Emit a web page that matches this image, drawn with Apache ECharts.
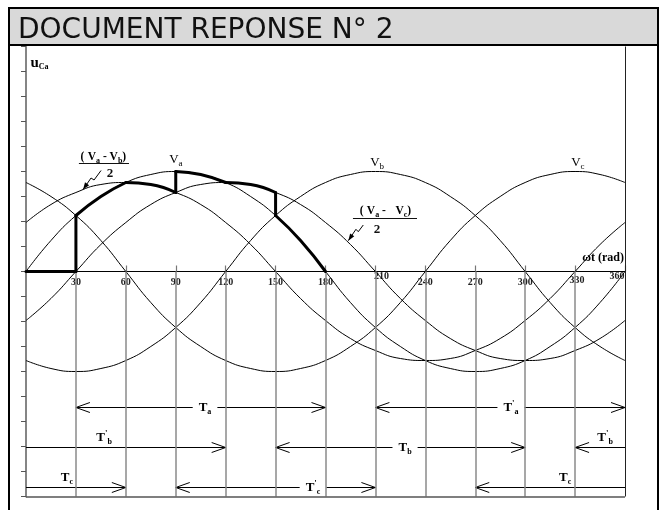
<!DOCTYPE html>
<html>
<head>
<meta charset="utf-8">
<script src="https://cdn.jsdelivr.net/npm/echarts@6/dist/echarts.min.js"></script>
<style>
  html, body { margin: 0; padding: 0; background: #fff; }
  #c { width: 667px; height: 510px; }
</style>
</head>
<body>
<div id="c"></div>
<script>
// Phase voltages and half line voltages over one period (degrees), amplitude of Va = 1
const angles = [0, 15, 30, 45, 60, 75, 90, 105, 120, 135, 150, 165, 180, 195, 210, 225, 240, 255, 270, 285, 300, 315, 330, 345, 360];
const va  = [0, .31, .56, .75, .89, .97, 1, .97, .89, .75, .56, .31, 0, -.31, -.56, -.75, -.89, -.97, -1, -.97, -.89, -.75, -.56, -.31, 0];
const vb  = [-.89, -.97, -1, -.97, -.89, -.75, -.56, -.31, 0, .31, .56, .75, .89, .97, 1, .97, .89, .75, .56, .31, 0, -.31, -.56, -.75, -.89];
const vc  = [.89, .75, .56, .31, 0, -.31, -.56, -.75, -.89, -.97, -1, -.97, -.89, -.75, -.56, -.31, 0, .31, .56, .75, .89, .97, 1, .97, .89];
const vab = [.49, .67, .79, .87, .89, .87, .79, .67, .49, .27, 0, -.27, -.49, -.67, -.79, -.87, -.89, -.87, -.79, -.67, -.49, -.27, 0, .27, .49];
const vac = [-.49, -.27, 0, .27, .49, .67, .79, .87, .89, .87, .79, .67, .49, .27, 0, -.27, -.49, -.67, -.79, -.87, -.89, -.87, -.79, -.67, -.49];

// u_Ca : which curve is applied between which angles
const uCaSegments = [
  ['zero', 0, 30], ['va', 30, 60], ['vab', 60, 90], ['va', 90, 120], ['vac', 120, 150], ['va', 150, 180]
];

// x tick labels every 30 degrees
const xTickLabels = ['', '30', '60', '90', '120', '150', '180', '210', '240', '270', '300', '330', '360'];

// vertical reference lines below the axis
const refAngles = [30, 60, 90, 120, 150, 180, 210, 240, 270, 300, 330];

// conduction intervals: [from, to, row level, arrow at start, arrow at end]
const spans = [
  [30, 180, -1.35, 1, 1],
  [210, 360, -1.35, 1, 1],
  [0, 120, -1.75, 0, 1],
  [150, 300, -1.75, 1, 1],
  [330, 360, -1.75, 1, 0],
  [0, 60, -2.15, 0, 1],
  [90, 210, -2.15, 1, 1],
  [270, 360, -2.15, 1, 0]
];
// interval names: [subscript, prime]
const spanNames = [['a', ''], ['a', "'"], ['b', "'"], ['b', ''], ['b', "'"], ['c', ''], ['c', "'"], ['c', '']];
// where each name sits: [angle, on the line or above it]
const spanNameAt = [[107.6, 'on'], [291.5, 'on'], [46.9, 'above'], [227.8, 'on'], [348, 'above'], [24.6, 'above'], [172.5, 'on'], [324, 'above']];

const SERIF = '"Liberation Serif", "DejaVu Serif", serif';
const curves = { va: va, vb: vb, vc: vc, vab: vab, vac: vac };

function curvePoints(name, a0, a1) {
  const out = [];
  angles.forEach(function (a, i) {
    if (a >= a0 && a <= a1) out.push([a, name === 'zero' ? 0 : curves[name][i]]);
  });
  return out;
}

const series = [];

// thin curves
['va', 'vb', 'vc', 'vab', 'vac'].forEach(function (k) {
  series.push({
    type: 'line', name: k, smooth: true, symbol: 'none', silent: true,
    lineStyle: { color: '#000', width: 1 },
    data: angles.map(function (a, i) { return [a, curves[k][i]]; }),
    z: 3
  });
});

// thick u_Ca trace
uCaSegments.forEach(function (seg, k) {
  const pts = curvePoints(seg[0], seg[1], seg[2]);
  series.push({
    type: 'line', smooth: seg[0] !== 'zero', symbol: 'none', silent: true,
    lineStyle: { color: '#000', width: 3, cap: 'round', join: 'round' },
    data: pts, z: 5
  });
  if (k > 0) {
    const prev = uCaSegments[k - 1];
    const prevPts = curvePoints(prev[0], prev[1], prev[2]);
    const endV = prevPts[prevPts.length - 1][1];
    if (endV !== pts[0][1]) {
      series.push({
        type: 'line', symbol: 'none', silent: true,
        lineStyle: { color: '#000', width: 3, cap: 'round' },
        data: [[seg[1], endV], [seg[1], pts[0][1]]], z: 5
      });
    }
  }
});

// reference lines
const markData = refAngles.map(function (a) {
  return [{ coord: [a, 0], lineStyle: { color: '#8a8a8a', width: 1.5, type: 'solid' } }, { coord: [a, -2.25] }];
});
markData.push([{ coord: [360, 2.25], lineStyle: { color: '#222', width: 1, type: 'solid' } }, { coord: [360, -2.25] }]);
markData.push([{ coord: [0, -2.25], lineStyle: { color: '#555', width: 1.5, type: 'solid' } }, { coord: [360, -2.25] }]);
series.push({
  type: 'line', data: [], silent: true,
  markLine: { symbol: ['none', 'none'], silent: true, label: { show: false }, animation: false, lineStyle: { type: 'solid' }, data: markData },
  z: 1
});

// interval arrows
const richT = {
  t: { fontFamily: SERIF, fontSize: 13, fontWeight: 'bold', color: '#000', lineHeight: 16 },
  p: { fontFamily: SERIF, fontSize: 9, fontWeight: 'bold', color: '#000', lineHeight: 9, verticalAlign: 'top' },
  s: { fontFamily: SERIF, fontSize: 8, fontWeight: 'bold', color: '#000', lineHeight: 9, verticalAlign: 'bottom' }
};
series.push({
  type: 'custom', silent: true, clip: false, z: 4,
  data: spans.map(function (s, i) { return [s[0], s[2], i]; }),
  encode: { x: 0, y: 1 },
  renderItem: function (params, api) {
    const s = spans[params.dataIndex];
    const p0 = api.coord([s[0], s[2]]);
    const p1 = api.coord([s[1], s[2]]);
    const y = Math.round(p0[1]) + 0.5;
    const ch = [];
    ch.push({ type: 'line', shape: { x1: p0[0], y1: y, x2: p1[0], y2: y }, style: { stroke: '#000', lineWidth: 1 } });
    if (s[3]) ch.push({ type: 'polyline', shape: { points: [[p0[0] + 14, y - 5], [p0[0], y], [p0[0] + 14, y + 5]] }, style: { stroke: '#000', lineWidth: 1, fill: null } });
    if (s[4]) ch.push({ type: 'polyline', shape: { points: [[p1[0] - 14, y - 5], [p1[0], y], [p1[0] - 14, y + 5]] }, style: { stroke: '#000', lineWidth: 1, fill: null } });
    const nm = spanNames[params.dataIndex];
    const at = spanNameAt[params.dataIndex];
    const lp = api.coord([at[0], s[2]]);
    const on = at[1] === 'on';
    const txt = '{t|T}' + (nm[1] ? '{p|' + nm[1] + '}' : '') + '{s|' + nm[0] + '}';
    ch.push({
      type: 'text', x: lp[0], y: on ? y : y - 10,
      style: {
        text: txt, rich: richT, align: 'center', verticalAlign: 'middle',
        backgroundColor: on ? '#fff' : null, padding: on ? [0, 6] : 0
      }
    });
    return { type: 'group', children: ch };
  }
});

// curve names, fractions and pointers
const curveNameSub = ['a', 'b', 'c'];
const curveNameAt = [[90.1, 1.115], [211, 1.085], [331.7, 1.085]];
const fractionText = ['( V{s|a} - V{s|b})', '( V{s|a} -   V{s|c})'];
const fractionAt = [[46.5, 1.145], [216, 0.605]];
const fractionBar = [[31.8, 61.9, 1.085], [196.5, 235, 0.54]];
const fractionTwoAt = [[50.5, 0.975], [211, 0.42]];
const pointers = [
  [[45.1, 1.01], [40.9, 0.915], [39.1, 0.935], [34.3, 0.82]],
  [[202.7, 0.465], [199.7, 0.398], [198.3, 0.422], [193.7, 0.308]]
];

const richV = {
  v: { fontFamily: SERIF, fontSize: 13, color: '#111', lineHeight: 16 },
  s: { fontFamily: SERIF, fontSize: 9, color: '#111', lineHeight: 9, verticalAlign: 'bottom' }
};
const richF = {
  v: { fontFamily: SERIF, fontSize: 11.5, fontWeight: 'bold', color: '#111', lineHeight: 15 },
  s: { fontFamily: SERIF, fontSize: 8, fontWeight: 'bold', color: '#111', lineHeight: 8, verticalAlign: 'bottom' }
};
const richU = {
  u: { fontFamily: SERIF, fontSize: 15, fontWeight: 'bold', color: '#000', lineHeight: 16 },
  s: { fontFamily: SERIF, fontSize: 8, fontWeight: 'bold', color: '#000', lineHeight: 9, verticalAlign: 'bottom' }
};

series.push({
  type: 'custom', silent: true, clip: false, z: 6,
  data: [[0, 0]],
  encode: { x: 0, y: 1 },
  renderItem: function (params, api) {
    const ch = [];
    curveNameAt.forEach(function (p, i) {
      const c = api.coord(p);
      ch.push({ type: 'text', x: c[0], y: c[1], style: { text: '{v|V}{s|' + curveNameSub[i] + '}', rich: richV, align: 'center', verticalAlign: 'middle' } });
    });
    fractionText.forEach(function (t, i) {
      const c = api.coord(fractionAt[i]);
      const txt = t.replace(/V/g, '{v|V}').replace(/\(/, '{v|(}').replace(/\)/, '{v|)}').replace(/ - /, '{v| - }').replace(/ -   /, '{v| -   }');
      ch.push({ type: 'text', x: c[0], y: c[1], style: { text: txt, rich: richF, align: 'center', verticalAlign: 'middle' } });
      const b0 = api.coord([fractionBar[i][0], fractionBar[i][2]]);
      const b1 = api.coord([fractionBar[i][1], fractionBar[i][2]]);
      ch.push({ type: 'line', shape: { x1: b0[0], y1: Math.round(b0[1]) + 0.5, x2: b1[0], y2: Math.round(b0[1]) + 0.5 }, style: { stroke: '#111', lineWidth: 1 } });
      const t2 = api.coord(fractionTwoAt[i]);
      ch.push({ type: 'text', x: t2[0], y: t2[1], style: { text: '2', fontFamily: SERIF, fontSize: 13, fontWeight: 'bold', fill: '#111', align: 'center', verticalAlign: 'middle' } });
    });
    pointers.forEach(function (pp) {
      const px = pp.map(function (p) { return api.coord(p); });
      ch.push({ type: 'polyline', shape: { points: px }, style: { stroke: '#000', lineWidth: 1, fill: null } });
      const a = px[px.length - 2], b = px[px.length - 1];
      const ang = Math.atan2(b[1] - a[1], b[0] - a[0]);
      const L = 7, W = 2.5;
      const bx = b[0] - L * Math.cos(ang), by = b[1] - L * Math.sin(ang);
      ch.push({
        type: 'polygon',
        shape: { points: [b, [bx + W * Math.sin(ang), by - W * Math.cos(ang)], [bx - W * Math.sin(ang), by + W * Math.cos(ang)]] },
        style: { fill: '#000' }
      });
    });
    // axis names
    const u = api.coord([2.7, 2.085]);
    ch.push({ type: 'text', x: u[0], y: u[1], style: { text: '{u|u}{s|Ca}', rich: richU, align: 'left', verticalAlign: 'middle' } });
    const w = api.coord([360, 0.135]);
    ch.push({ type: 'text', x: w[0] - 1, y: w[1], style: { text: 'ωt (rad)', fontFamily: SERIF, fontSize: 12, fontWeight: 'bold', fill: '#000', align: 'right', verticalAlign: 'middle' } });
    return { type: 'group', children: ch };
  }
});

const labelRich = {
  n: { fontFamily: SERIF, fontSize: 10, fontWeight: 'bold', color: '#222', padding: [6, 0, 0, 0] },
  hi: { fontFamily: SERIF, fontSize: 10, fontWeight: 'bold', color: '#222', padding: [0, 0, 0, 12] },
  mid: { fontFamily: SERIF, fontSize: 10, fontWeight: 'bold', color: '#222', padding: [4, 0, 0, 4] },
  end: { fontFamily: SERIF, fontSize: 10, fontWeight: 'bold', color: '#222', padding: [0, 16, 0, 0] }
};
const labelStyleOf = { '210': 'hi', '330': 'mid', '360': 'end' };

const GRID_H = 450;
const chart = echarts.init(document.getElementById('c'), null, { renderer: 'canvas' });
chart.setOption({
  animation: false,
  backgroundColor: '#fff',
  grid: { left: 26, right: 42, top: 46.5, height: GRID_H, containLabel: false, outerBoundsMode: 'none' },
  xAxis: {
    type: 'value', min: 0, max: 360, interval: 30,
    position: 'bottom',
    // the horizontal axis runs through the middle of the plot (value 0)
    offset: -GRID_H / 2,
    axisLine: { onZero: false, lineStyle: { color: '#000', width: 1.2 } },
    axisTick: { show: true, inside: true, length: 6, lineStyle: { color: '#777', width: 1.2 } },
    splitLine: { show: false },
    axisLabel: {
      margin: 0, hideOverlap: false, showMinLabel: true, showMaxLabel: true,
      formatter: function (v) {
        const t = xTickLabels[Math.round(v / 30)];
        if (!t) return '';
        return '{' + (labelStyleOf[t] || 'n') + '|' + t + '}';
      },
      rich: labelRich
    }
  },
  yAxis: {
    type: 'value', min: -2.25, max: 2.25, interval: 0.25,
    axisLine: { show: true, onZero: false, lineStyle: { color: '#858585', width: 2 } },
    axisTick: { show: true, length: 5, lineStyle: { color: '#555', width: 1 } },
    axisLabel: { show: false },
    splitLine: { show: false }
  },
  graphic: [
    { type: 'rect', shape: { x: 9, y: 8, width: 649, height: 530 }, style: { fill: null, stroke: '#000', lineWidth: 2 }, z: 100, silent: true },
    { type: 'rect', shape: { x: 9, y: 8, width: 649, height: 37 }, style: { fill: '#d9d9d9', stroke: '#000', lineWidth: 2 }, z: 99, silent: true },
    { type: 'text', x: 18, y: 31, style: { text: 'DOCUMENT REPONSE N° 2', fontFamily: '"DejaVu Sans", sans-serif', fontSize: 28, fill: '#111', verticalAlign: 'middle' }, z: 101, silent: true }
  ],
  series: series
});
</script>
</body>
</html>
